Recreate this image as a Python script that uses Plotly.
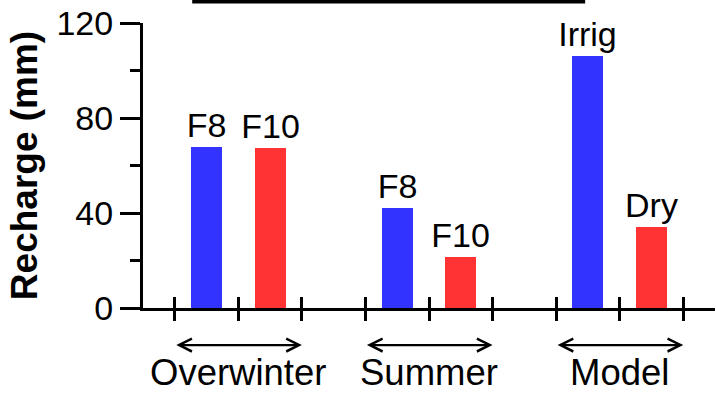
import plotly.graph_objects as go

# Recharge per period and treatment
groups = ["Overwinter", "Summer", "Model"]
bar_labels = ["F8", "F10", "F8", "F10", "Irrig", "Dry"]
recharge_mm = [68, 67.5, 42, 21.3, 106, 34]
bar_colors = ["#3333ff", "#ff3333", "#3333ff", "#ff3333", "#3333ff", "#ff3333"]
y_ticks = [0, 40, 80, 120]

FONT = "Liberation Sans, Arial, sans-serif"

# each group occupies three x slots; two bars sit between the slot ticks
bar_x = []
for gi in range(len(groups)):
    bar_x += [3 * gi + 0.5, 3 * gi + 1.5]
slot_ticks = list(range(3 * len(groups)))

fig = go.Figure()
fig.add_trace(go.Bar(
    x=bar_x, y=recharge_mm, width=0.49,
    marker=dict(color=bar_colors, line=dict(width=0)),
    text=bar_labels, textposition="outside", constraintext="none",
    textfont=dict(family=FONT, size=34, color="black"),
    cliponaxis=False, showlegend=False, hoverinfo="skip",
))
# invisible trace so the overlaid axis (upper half of the x ticks) is drawn
fig.add_trace(go.Scatter(
    x=[slot_ticks[0]], y=[0], xaxis="x2", mode="markers",
    marker=dict(opacity=0), showlegend=False, hoverinfo="skip",
))

# double-headed arrows and group names below the axis
for gi, name in enumerate(groups):
    x0, x1 = 3 * gi, 3 * gi + 2
    fig.add_annotation(
        x=x1, y=-0.13, ax=x0, ay=0, xref="x", yref="paper", axref="x", ayref="pixel",
        showarrow=True, arrowside="end+start", arrowhead=5, arrowsize=1.1,
        arrowwidth=2.3, arrowcolor="black", standoff=0, startstandoff=0, text="",
    )
    fig.add_annotation(
        x=3 * gi + 1, y=-0.228, xref="x", yref="paper", text=name, showarrow=False,
        font=dict(family=FONT, size=36.5, color="black"), yanchor="middle",
    )

# thin rule across the top edge
fig.add_shape(type="line", xref="paper", yref="paper", x0=0.086, x1=0.773,
              y0=1.075, y1=1.075, line=dict(color="black", width=3.5))

fig.update_layout(
    width=716, height=393,
    margin=dict(l=143, r=1, t=23, b=85),
    plot_bgcolor="white", paper_bgcolor="white",
    font=dict(family=FONT, color="black"),
    bargap=0,
    xaxis=dict(
        range=[-0.5, 8.5], showline=True, linewidth=3, linecolor="black",
        ticks="outside", ticklen=10, tickwidth=3, tickcolor="black",
        tickvals=slot_ticks, showticklabels=False,
        showgrid=False, zeroline=False, fixedrange=True,
    ),
    xaxis2=dict(
        range=[-0.5, 8.5], overlaying="x", anchor="y", side="bottom",
        ticks="inside", ticklen=11, tickwidth=3, tickcolor="black",
        tickvals=slot_ticks, showticklabels=False, showline=False,
        showgrid=False, zeroline=False,
    ),
    yaxis=dict(
        range=[0, 120], tickvals=y_ticks, showline=True, linewidth=3,
        linecolor="black", ticks="outside", ticklen=20, tickwidth=3,
        tickcolor="black", tickfont=dict(family=FONT, size=34, color="black"),
        minor=dict(dtick=20, ticklen=10, tickwidth=3, tickcolor="black", ticks="outside"),
        showgrid=False, zeroline=False,
        title=dict(text="<b>Recharge (mm)</b>", standoff=8,
                   font=dict(family=FONT, size=37, color="black")),
    ),
)

fig.write_html("out.html")
